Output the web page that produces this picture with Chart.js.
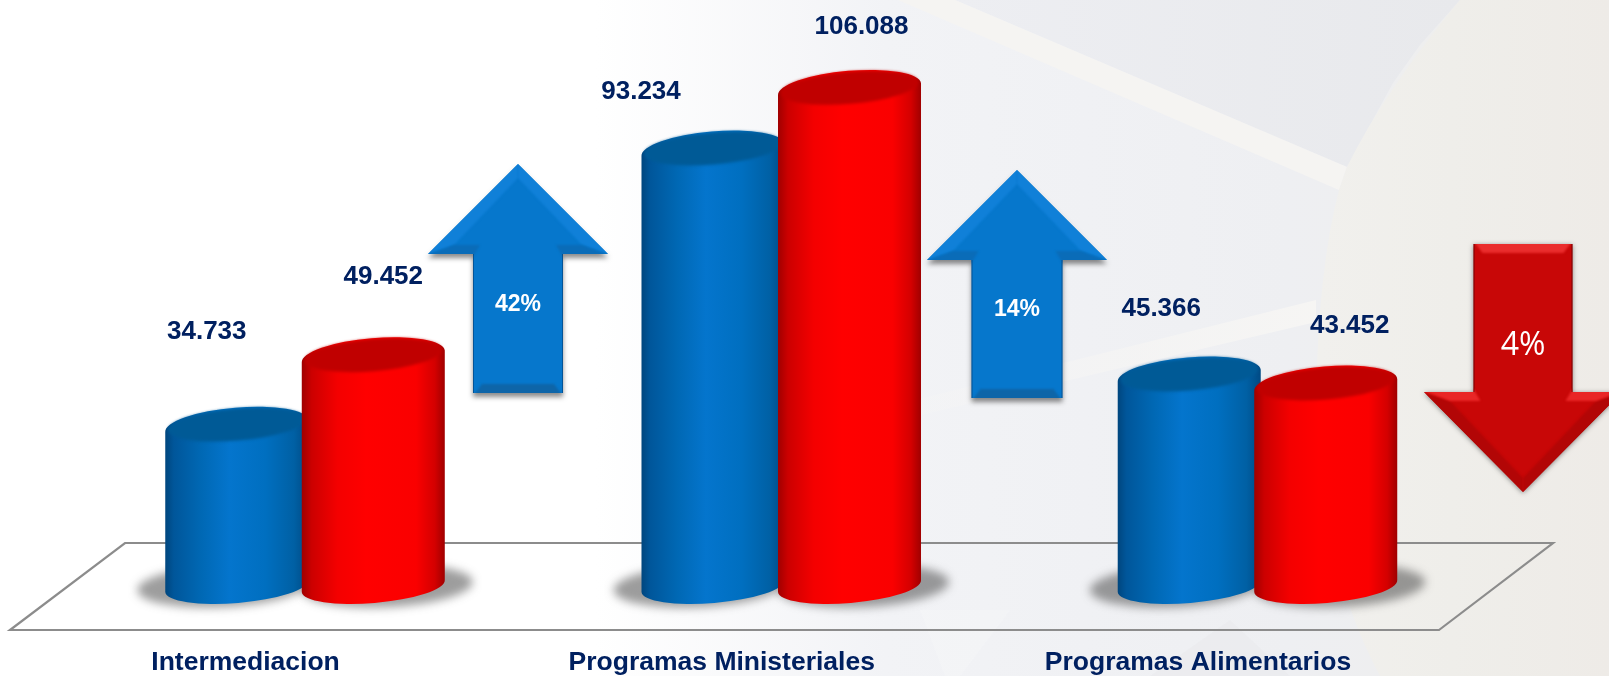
<!DOCTYPE html>
<html><head><meta charset="utf-8">
<style>html,body{margin:0;padding:0;background:#fff}canvas{display:block}</style>
<script src="https://cdn.jsdelivr.net/npm/chart.js@4"></script>
</head><body>
<canvas id="c" width="1609" height="676"></canvas>
<script>
const categories = ['Intermediacion', 'Programas Ministeriales', 'Programas Alimentarios'];
const seriesBlue = [34733, 93234, 45366];
const seriesRed  = [49452, 106088, 43452];
const changeLabels = ['42%', '14%', '4%'];

// label placement relative to each bar (reference places them by hand)
const labelOffsetsBlue = [[-30, -94], [-72, -58], [-28, -67]];
const labelOffsetsRed  = [[10, -80], [12, -62], [24, -59]];

const INK = '#002060';
const SHADES = {
  '#0475cd': {stops: [[0,'#00467e'],[.06,'#00569a'],[.25,'#0068b4'],[.45,'#0475cd'],[.7,'#006fc0'],[.9,'#0060a4'],[1,'#004a84']], top: '#005a96'},
  '#ff0000': {stops: [[0,'#a00000'],[.07,'#cc0000'],[.25,'#f40000'],[.45,'#ff0000'],[.8,'#fa0000'],[.93,'#d40000'],[1,'#a00000']], top: '#c00000'}
};
const TILT = 12, RY = 18.5, FOOT = 4;

// Bars are still laid out by Chart.js: only their painting is a cylinder.
Chart.BarElement.prototype.draw = function (ctx) {
  const {x, y, base, width} = this.getProps(['x', 'y', 'base', 'width']);
  const s = SHADES[this.options.backgroundColor];
  const l = x - width / 2, r = x + width / 2, ang = Math.atan2(-TILT, width);
  const rx = Math.hypot(width, TILT) / 2, by = base - FOOT;
  const g = ctx.createLinearGradient(l, 0, r, 0);
  s.stops.forEach(p => g.addColorStop(p[0], p[1]));
  ctx.save();
  ctx.fillStyle = g;
  ctx.beginPath();
  ctx.moveTo(l, y + TILT / 2);
  ctx.lineTo(l, by + TILT / 2);
  ctx.ellipse(x, by, rx, RY - 1.5, ang, Math.PI, 0, true);
  ctx.lineTo(r, y - TILT / 2);
  ctx.ellipse(x, y, rx, RY, ang, 0, Math.PI, true);
  ctx.closePath();
  ctx.fill();
  ctx.filter = 'blur(1.5px)';
  ctx.fillStyle = s.top;
  ctx.beginPath();
  ctx.ellipse(x, y - 1.5, rx * 0.96, RY * 0.87, ang, 0, Math.PI * 2);
  ctx.fill();
  ctx.restore();
};

function poly(ctx, pts, fill) {
  ctx.beginPath();
  pts.forEach((p, i) => i ? ctx.lineTo(p[0], p[1]) : ctx.moveTo(p[0], p[1]));
  ctx.closePath();
  if (fill) { ctx.fillStyle = fill; ctx.fill(); }
}

function paintBackground(ctx) {
  const W = 1609, H = 676;
  let g = ctx.createLinearGradient(0, 0, W, 0);
  g.addColorStop(0, '#ffffff'); g.addColorStop(.37, '#ffffff');
  g.addColorStop(.55, '#f2f3f6'); g.addColorStop(.8, '#eeeff2'); g.addColorStop(1, '#eeedea');
  ctx.fillStyle = g; ctx.fillRect(0, 0, W, H);
  // upper-right panel above the diagonal band
  g = ctx.createLinearGradient(955, 0, 1460, 0);
  g.addColorStop(0, '#edeef2'); g.addColorStop(1, '#e8e9ec');
  poly(ctx, [[955,0],[1460,0],[1420,45],[1393,83],[1347,167]], g);
  // diagonal pale bands
  poly(ctx, [[898,0],[955,0],[1347,167],[1339,190]], '#f5f4f2');
  g = ctx.createLinearGradient(900, 0, 1320, 0);
  g.addColorStop(0, 'rgba(247,246,244,.2)'); g.addColorStop(1, 'rgba(247,246,244,.9)');
  poly(ctx, [[1316,300],[1316,322],[900,420],[915,400]], g);
  // right beige region bounded by the large curve
  g = ctx.createLinearGradient(1320, 0, W, 0);
  g.addColorStop(0, '#f1f0ed'); g.addColorStop(.45, '#efeeea'); g.addColorStop(1, '#eeebe7');
  ctx.beginPath();
  ctx.moveTo(1460, 0);
  ctx.quadraticCurveTo(1385, 90, 1347, 167);
  ctx.lineTo(1339, 190);
  ctx.quadraticCurveTo(1318, 270, 1316, 400);
  ctx.quadraticCurveTo(1318, 560, 1380, H);
  ctx.lineTo(W, H); ctx.lineTo(W, 0); ctx.closePath();
  ctx.fillStyle = g; ctx.fill();
  // faint facets at the foot of the page
  poly(ctx, [[920,610],[1010,610],[960,676],[945,676]], 'rgba(255,255,255,.18)');
  poly(ctx, [[1150,676],[1230,620],[1290,676]], 'rgba(228,229,233,.3)');
}

const FLOOR = [[125, 543], [1553, 543], [1439, 630], [10, 630]];

const ARROWS = [
  {x: 518,  tip: 164, wing: 254, end: 393, head: 90, shaft: 45, up: true,  text: 0, ty: 305, font: 'bold 23px "Liberation Sans"',
   fill: '#0677cc', slope: '#1080d8', under: '#0a6cb8', cap: '#0e65a8', edge: 'rgba(0,50,100,.5)'},
  {x: 1017, tip: 170, wing: 260, end: 398, head: 90, shaft: 45.5, up: true, text: 1, ty: 310, font: 'bold 23px "Liberation Sans"',
   fill: '#0677cc', slope: '#1080d8', under: '#0a6cb8', cap: '#0e65a8', edge: 'rgba(0,50,100,.5)'},
  {x: 1523, tip: 492, wing: 392, end: 244, head: 99, shaft: 49.5, up: false, text: 2, ty: 346, font: '32px "Open Sans"',
   fill: '#c80707', slope: '#b20606', under: '#e92626', cap: '#ea2c2c', edge: 'rgba(70,0,0,.6)'}
];

function drawArrow(ctx, a) {
  const s = a.up ? 1 : -1;
  const L = a.x - a.head, R = a.x + a.head, l = a.x - a.shaft, r = a.x + a.shaft;
  const outline = [[a.x,a.tip],[R,a.wing],[r,a.wing],[r,a.end],[l,a.end],[l,a.wing],[L,a.wing]];
  ctx.save();
  ctx.shadowColor = 'rgba(0,0,0,.45)'; ctx.shadowBlur = 5; ctx.shadowOffsetY = a.up ? 4 : 1;
  poly(ctx, outline, a.fill);
  ctx.restore();
  const it = [a.x, a.tip + 14 * s], iL = [L + 26, a.wing - 9 * s], iR = [R - 26, a.wing - 9 * s];
  const sL = [l + 7, a.wing - 9 * s], sR = [r - 7, a.wing - 9 * s];
  ctx.save();
  poly(ctx, outline); ctx.clip();
  ctx.filter = 'blur(1.2px)';
  poly(ctx, [[a.x,a.tip - 4 * s],[L - 6,a.wing + 2 * s],iL,it], a.slope);
  poly(ctx, [[a.x,a.tip - 4 * s],[R + 6,a.wing + 2 * s],iR,it], a.slope);
  poly(ctx, [[L - 6,a.wing + 3 * s],[l,a.wing + 3 * s],sL,iL], a.under);
  poly(ctx, [[R + 6,a.wing + 3 * s],[r,a.wing + 3 * s],sR,iR], a.under);
  poly(ctx, [[l,a.end + 3 * s],[r,a.end + 3 * s],[r-9,a.end-9*s],[l+9,a.end-9*s]], a.cap);
  ctx.restore();
  ctx.strokeStyle = a.edge; ctx.lineWidth = 1;
  ctx.beginPath();
  ctx.moveTo(l+.5,a.wing); ctx.lineTo(l+.5,a.end);
  ctx.moveTo(r-.5,a.wing); ctx.lineTo(r-.5,a.end);
  ctx.stroke();
  ctx.fillStyle = '#fff'; ctx.font = a.font;
  ctx.textAlign = 'center'; ctx.textBaseline = 'middle';
  ctx.fillText(changeLabels[a.text], a.x, a.ty);
}

const scene = {
  id: 'scene',
  beforeDraw(chart) { paintBackground(chart.ctx); },
  beforeDatasetsDraw(chart) {
    const ctx = chart.ctx;
    ctx.save();
    ctx.strokeStyle = '#8c8c8c'; ctx.lineWidth = 2.2; ctx.lineJoin = 'miter';
    poly(ctx, FLOOR); ctx.stroke();
    ctx.filter = 'blur(5px)';
    ctx.fillStyle = 'rgba(60,60,60,.5)';
    [0, 1].forEach(i => chart.getDatasetMeta(i).data.forEach(el => {
      const dx = i ? 14 : -14;
      ctx.beginPath();
      ctx.ellipse(el.x + dx, el.base - 4, el.width / 2 + 14, 21, -0.05, 0, Math.PI * 2);
      ctx.fill();
    }));
    ctx.restore();
    // red columns sit in front of the blue ones
    chart.getDatasetMeta(0).controller.draw();
    chart.getDatasetMeta(1).controller.draw();
    return false;
  },
  afterDraw(chart) {
    const ctx = chart.ctx;
    ctx.save();
    ctx.fillStyle = INK; ctx.font = 'bold 26px "Liberation Sans"';
    ctx.textAlign = 'center'; ctx.textBaseline = 'middle';
    [[seriesBlue, labelOffsetsBlue], [seriesRed, labelOffsetsRed]].forEach((set, i) => {
      chart.getDatasetMeta(i).data.forEach((el, k) => {
        const txt = set[0][k].toLocaleString('de-DE');
        ctx.fillText(txt, el.x + set[1][k][0], el.y + set[1][k][1]);
      });
    });
    ctx.restore();
    ARROWS.forEach(a => drawArrow(ctx, a));
  }
};

new Chart(document.getElementById('c'), {
  type: 'bar',
  data: {
    labels: categories,
    datasets: [
      {label: 'Azul', data: seriesBlue, backgroundColor: '#0475cd'},
      {label: 'Rojo', data: seriesRed, backgroundColor: '#ff0000'}
    ]
  },
  options: {
    responsive: false,
    animation: false,
    events: [],
    categoryPercentage: 0.5733,
    barPercentage: 1.0476,
    layout: {padding: {left: 66.9, right: 113.4, top: 0, bottom: 0}},
    plugins: {legend: {display: false}, tooltip: {enabled: false}, title: {display: false}},
    scales: {
      x: {
        grid: {display: false, drawTicks: false},
        border: {display: false},
        afterFit(scale) { scale.height = 86; },
        ticks: {
          color: INK, font: {family: '"Liberation Sans"', size: 26.5, weight: 'bold'},
          padding: 57, labelOffset: -59.5, maxRotation: 0, autoSkip: false
        }
      },
      y: {display: false, min: 0, max: 125000}
    }
  },
  plugins: [scene]
});
</script>
</body></html>
